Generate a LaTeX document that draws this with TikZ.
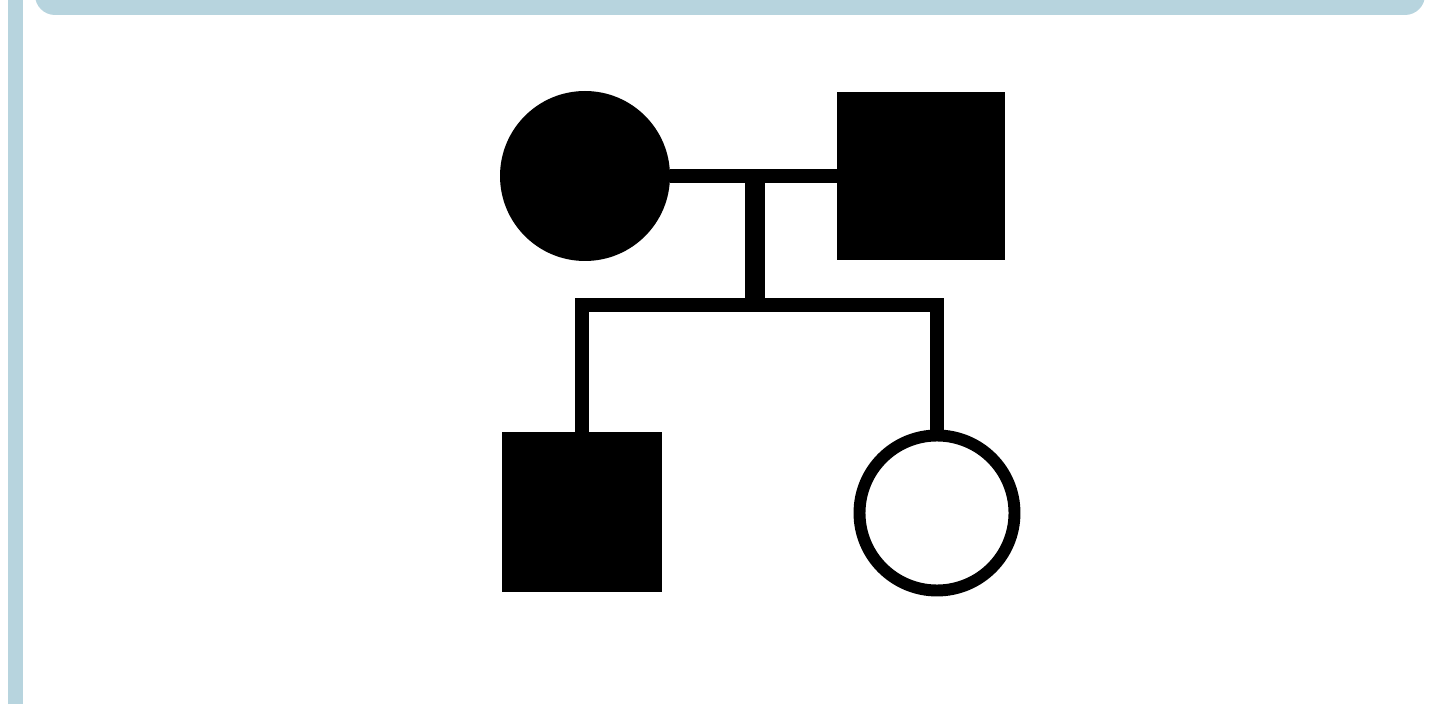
\documentclass[tikz,border=0pt]{standalone}
\usepackage{tikz}
\definecolor{bleu}{HTML}{B7D4DE}

\begin{document}
\begin{tikzpicture}[
    femme/.style={circle,inner sep=0pt,outer sep=0pt,minimum size=#1},
    homme/.style={rectangle,inner sep=0pt,outer sep=0pt,minimum size=#1},
    lien/.style={line width=4pt}]
                        \clip (0,0) rectangle (14.4,7.04);
                        \fill[color=bleu, rounded corners=0.2cm] (0.35,6.89) rectangle (14.25,7.4);
                        \draw[color=bleu, line width=4pt] (0.155,0) -- (0.155,7.04);

                        \node[femme=1.7cm, fill=black] (mere) at (5.85,5.28) {};
                        \node[homme=1.68cm, fill=black] (pere) at (9.21,5.28) {};
                        \node[homme=1.6cm, fill=black] (fils) at (5.82,1.92) {};
                        \node[femme=1.55cm, draw=black, line width=3.4pt, fill=white] (fille) at (9.37,1.91) {};

                        \coordinate (union) at (7.55,5.28);
                        \coordinate (frat) at (7.55,3.99);
                        \draw[lien] (mere) -- (pere);
                        \draw[lien, line width=5.6pt] (union) -- (frat);
                        \draw[lien] (fils.north) |- (frat) -| (fille.north);
                    \end{tikzpicture}
\end{document}
